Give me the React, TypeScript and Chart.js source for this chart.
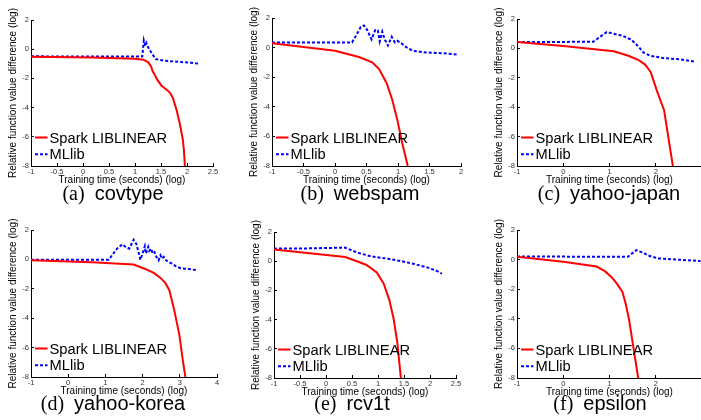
import React, { useEffect, useRef } from "react";
import { Chart, registerables } from "chart.js";

Chart.register(...registerables);

const SANS = "'Liberation Sans', Arial, Helvetica, sans-serif";
const SERIF = "'Liberation Serif', 'Times New Roman', serif";

// ---------- data (x: log10 training time, y: log relative difference) ----------
const yTicks = [-8, -6, -4, -2, 0, 2];

const covtypeSparkT = [-1, 0.17, 1.0, 1.16, 1.25, 1.31, 1.34, 1.38, 1.43, 1.51, 1.61, 1.67, 1.73, 1.8, 1.86, 1.92, 1.94, 1.96];
const covtypeSparkV = [-0.52, -0.56, -0.65, -0.72, -0.88, -1.18, -1.52, -1.75, -2.1, -2.5, -2.78, -2.97, -3.35, -4.16, -5.07, -6.2, -6.9, -8];
const covtypeMllibT = [-1, 0.8, 1.14, 1.17, 1.2, 1.22, 1.25, 1.32, 1.4, 1.57, 1.83, 2.08, 2.24];
const covtypeMllibV = [-0.49, -0.5, -0.5, 0.6, 0.2, 0.42, 0.15, -0.27, -0.68, -0.79, -0.86, -0.93, -1.0];

const webspamSparkT = [-1, 0, 0.38, 0.59, 0.7, 0.82, 0.91, 0.99, 1.07, 1.155];
const webspamSparkV = [0.3, -0.22, -0.64, -1.0, -1.45, -2.41, -3.54, -4.9, -6.5, -8];
const webspamMllibT = [-1, 0.27, 0.33, 0.41, 0.46, 0.51, 0.58, 0.64, 0.68, 0.71, 0.75, 0.79, 0.84, 0.9, 0.95, 0.99, 1.05, 1.13, 1.24, 1.45, 1.72, 1.93];
const webspamMllibV = [0.35, 0.35, 0.78, 1.4, 1.5, 1.2, 0.55, 1.2, 1.16, 0.42, 1.08, 0.55, 0.14, 0.73, 0.35, 0.46, 0.3, 0.03, -0.22, -0.33, -0.38, -0.46];

const japanSparkT = [-1, 0, 1.09, 1.41, 1.63, 1.77, 1.89, 2.02, 2.18, 2.27, 2.37];
const japanSparkV = [0.43, 0.16, -0.2, -0.5, -0.8, -1.1, -1.6, -2.84, -4.2, -6.0, -8];
const japanMllibT = [-1, 0.65, 0.8, 0.94, 1.09, 1.3, 1.48, 1.63, 1.73, 1.88, 2.17, 2.53, 2.85];
const japanMllibV = [0.43, 0.45, 0.8, 1.11, 1.0, 0.84, 0.57, 0.11, -0.27, -0.5, -0.66, -0.75, -0.9];

const koreaSparkT = [-1, 0.64, 1.76, 2.07, 2.3, 2.48, 2.61, 2.72, 2.85, 2.99, 3.08, 3.15];
const koreaSparkV = [-0.06, -0.2, -0.35, -0.65, -0.92, -1.26, -1.6, -2.1, -3.45, -5.15, -6.85, -8];
const koreaMllibT = [-1, 1.09, 1.18, 1.31, 1.46, 1.56, 1.64, 1.76, 1.83, 1.89, 1.94, 2.0, 2.06, 2.09, 2.15, 2.18, 2.23, 2.27, 2.32, 2.37, 2.43, 2.48, 2.52, 2.57, 2.63, 2.7, 2.79, 2.92, 3.06, 3.24, 3.46];
const koreaMllibV = [-0.02, -0.02, 0.28, 0.73, 1.03, 0.81, 0.73, 1.34, 1.06, 0.5, -0.02, 0.4, 0.9, 0.4, 0.85, 0.58, 0.73, 0.4, 0.5, 0.17, -0.06, 0.28, 0.05, 0.17, -0.06, -0.17, -0.29, -0.51, -0.62, -0.65, -0.74];

const rcvSparkT = [-1, 0.37, 0.58, 0.77, 0.88, 0.98, 1.11, 1.22, 1.3, 1.37, 1.44];
const rcvSparkV = [0.81, 0.29, 0.01, -0.24, -0.51, -0.79, -1.54, -2.68, -3.94, -5.53, -8];
const rcvMllibT = [-1, -0.28, 0.36, 0.45, 0.61, 0.87, 1.19, 1.44, 1.7, 1.96, 2.12, 2.23];
const rcvMllibV = [0.86, 0.88, 0.93, 0.81, 0.58, 0.33, 0.17, 0.01, -0.19, -0.44, -0.65, -0.85];

const epsSparkT = [-1, 0, 0.72, 0.9, 1.04, 1.16, 1.28, 1.35, 1.42, 1.51, 1.62];
const epsSparkV = [0.19, -0.15, -0.47, -0.78, -1.17, -1.62, -2.19, -2.98, -4.0, -5.8, -8];
const epsMllibT = [-1, 1.4, 1.49, 1.58, 1.73, 1.87, 2.05, 2.3, 2.66, 2.97];
const epsMllibV = [0.21, 0.19, 0.42, 0.64, 0.46, 0.24, 0.08, 0.03, -0.04, -0.1];

const seriesNames = ["Spark LIBLINEAR", "MLlib"];
const yTitle = "Relative function value difference (log)";
const xTitle = "Training time (seconds) (log)";

// ---------- layout (page pixels of each plot area) ----------
type PanelSpec = {
  tag: string; name: string;
  sT: number[]; sV: number[]; mT: number[]; mV: number[];
  xMax: number; xStep: number; hideLast: boolean;
  L: number; R: number; T: number; B: number; capX: number; capY: number;
};

const panels: PanelSpec[] = [
  { tag: "(a)", name: "covtype", sT: covtypeSparkT, sV: covtypeSparkV, mT: covtypeMllibT, mV: covtypeMllibV, xMax: 2.5, xStep: 0.5, hideLast: false, L: 31, R: 213, T: 20, B: 166, capX: 113, capY: 200 },
  { tag: "(b)", name: "webspam", sT: webspamSparkT, sV: webspamSparkV, mT: webspamMllibT, mV: webspamMllibV, xMax: 2, xStep: 0.5, hideLast: false, L: 272, R: 461, T: 18, B: 166, capX: 360, capY: 200 },
  { tag: "(c)", name: "yahoo-japan", sT: japanSparkT, sV: japanSparkV, mT: japanMllibT, mV: japanMllibV, xMax: 3, xStep: 1, hideLast: true, L: 517, R: 702, T: 19, B: 166, capX: 609, capY: 200 },
  { tag: "(d)", name: "yahoo-korea", sT: koreaSparkT, sV: koreaSparkV, mT: koreaMllibT, mV: koreaMllibV, xMax: 4, xStep: 1, hideLast: false, L: 31, R: 217, T: 230, B: 377, capX: 113, capY: 410 },
  { tag: "(e)", name: "rcv1t", sT: rcvSparkT, sV: rcvSparkV, mT: rcvMllibT, mV: rcvMllibV, xMax: 2.5, xStep: 0.5, hideLast: false, L: 274, R: 456, T: 232, B: 378, capX: 352, capY: 410 },
  { tag: "(f)", name: "epsilon", sT: epsSparkT, sV: epsSparkV, mT: epsMllibT, mV: epsMllibV, xMax: 3, xStep: 1, hideLast: true, L: 517, R: 702, T: 230, B: 378, capX: 600, capY: 410 },
];

const PADL = 24, PADT = 12, PADR = 10, AXH = 20;

const innerLegend = {
  id: "innerLegend",
  afterDatasetsDraw(chart: any) {
    const { ctx, chartArea } = chart;
    const rows = [chartArea.bottom - 28.5, chartArea.bottom - 11.8];
    ctx.save();
    chart.data.datasets.forEach((ds: any, i: number) => {
      const y = rows[i];
      ctx.beginPath();
      ctx.setLineDash(ds.borderDash || []);
      ctx.strokeStyle = ds.borderColor;
      ctx.lineWidth = ds.borderWidth;
      ctx.lineCap = "butt";
      ctx.moveTo(chartArea.left + 4, y);
      ctx.lineTo(chartArea.left + 16.5, y);
      ctx.stroke();
      ctx.setLineDash([]);
      ctx.fillStyle = "#000";
      ctx.font = `14.7px ${SANS}`;
      ctx.textBaseline = "alphabetic";
      ctx.textAlign = "left";
      ctx.fillText(ds.label, chartArea.left + 18.5, y + 5.2);
    });
    ctx.restore();
  },
};

function Panel({ p }: { p: PanelSpec }) {
  const ref = useRef<HTMLCanvasElement>(null);
  const w = PADL + (p.R - p.L) + PADR;
  const h = PADT + (p.B - p.T) + AXH;

  useEffect(() => {
    const toPts = (t: number[], v: number[]) => t.map((x, i) => ({ x, y: v[i] }));
    const chart = new Chart(ref.current!, {
      type: "line",
      data: {
        datasets: [
          { label: seriesNames[0], data: toPts(p.sT, p.sV), borderColor: "#ff0000", borderWidth: 2, pointRadius: 0, tension: 0, fill: false },
          { label: seriesNames[1], data: toPts(p.mT, p.mV), borderColor: "#0000ff", borderWidth: 2, borderDash: [3, 2], pointRadius: 0, tension: 0, fill: false },
        ],
      },
      options: {
        animation: false,
        responsive: false,
        devicePixelRatio: 1,
        layout: { padding: { left: 0, top: PADT, right: PADR, bottom: 0 } },
        plugins: { legend: { display: false }, tooltip: { enabled: false } },
        scales: {
          x: {
            type: "linear",
            min: -1,
            max: p.xMax,
            afterFit: (s: any) => { s.height = AXH; },
            ticks: {
              stepSize: p.xStep,
              autoSkip: false,
              maxRotation: 0,
              padding: 4,
              color: "#333",
              font: { size: 7.5, family: SANS },
              callback: (v: any) => (p.hideLast && v === p.xMax ? "" : String(v)),
            },
            grid: { display: true, drawOnChartArea: false, drawTicks: true, tickLength: -3, tickColor: "#000" },
            border: { display: true, color: "#000", width: 1 },
            title: { display: true, text: xTitle, color: "#000", font: { size: 10, family: SANS }, padding: { top: 0, bottom: 0 } },
          },
          y: {
            type: "linear",
            min: -8,
            max: 2,
            afterFit: (s: any) => { s.width = PADL; },
            afterBuildTicks: (s: any) => { s.ticks = yTicks.map((v) => ({ value: v })); },
            ticks: {
              padding: 5,
              color: "#333",
              font: { size: 7.5, family: SANS },
              callback: (v: any) => String(v),
            },
            grid: { display: true, drawOnChartArea: false, drawTicks: true, tickLength: -3, tickColor: "#000" },
            border: { display: true, color: "#000", width: 1 },
            title: { display: true, text: yTitle, color: "#000", font: { size: 10, family: SANS }, padding: { top: 0.5, bottom: 0 } },
          },
        },
      },
      plugins: [innerLegend],
    } as any);
    return () => chart.destroy();
  }, []);

  return (
    <canvas
      ref={ref}
      width={w}
      height={h}
      style={{ position: "absolute", left: p.L - PADL, top: p.T - PADT, width: w, height: h }}
    />
  );
}

export default function App() {
  return (
    <div style={{ position: "absolute", left: 0, top: 0, width: 701, height: 420, overflow: "hidden", background: "#fff" }}>
      {panels.map((p) => (
        <Panel key={p.tag} p={p} />
      ))}
      {panels.map((p) => (
        <div
          key={p.tag + "c"}
          style={{
            position: "absolute",
            left: p.capX - 110,
            width: 220,
            top: p.capY - 17,
            lineHeight: "20px",
            fontSize: 20,
            textAlign: "center",
            whiteSpace: "nowrap",
            color: "#000",
          }}
        >
          <span style={{ fontFamily: SERIF }}>{p.tag}</span>
          <span style={{ fontFamily: SANS, marginLeft: 10 }}>{p.name}</span>
        </div>
      ))}
    </div>
  );
}
